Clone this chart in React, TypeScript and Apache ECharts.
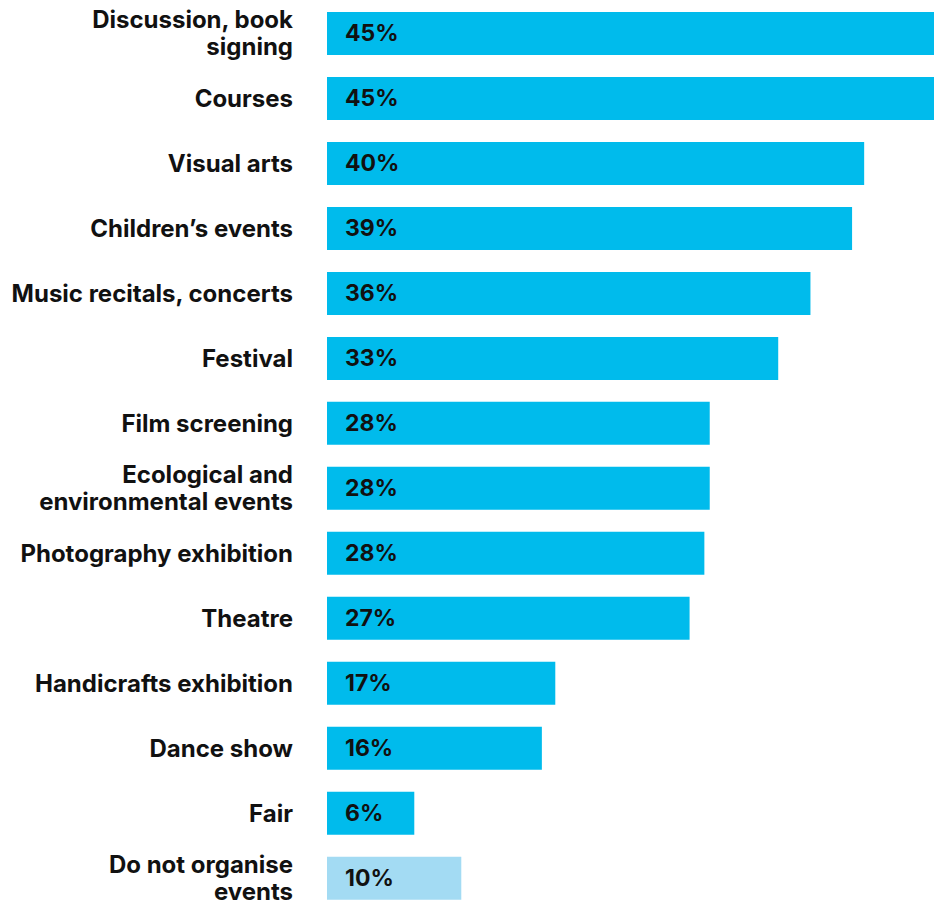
import React, { useEffect, useRef } from "react";
import * as echarts from "echarts";

const categories = [
  "Discussion, book\nsigning",
  "Courses",
  "Visual arts",
  "Children’s events",
  "Music recitals, concerts",
  "Festival",
  "Film screening",
  "Ecological and\nenvironmental events",
  "Photography exhibition",
  "Theatre",
  "Handicrafts exhibition",
  "Dance show",
  "Fair",
  "Do not organise\nevents",
];
const values = [45.2, 45.2, 40, 39.1, 36, 33.6, 28.5, 28.5, 28.1, 27, 17, 16, 6.5, 10];
const highlightIndex = 13;

const FONT = "Inter, 'Noto Sans', sans-serif";

export default function App() {
  const ref = useRef<HTMLDivElement>(null);
  useEffect(() => {
    document.body.style.margin = "0";
    const chart = echarts.init(ref.current!, undefined, { renderer: "svg" });
    chart.setOption({
      animation: false,
      grid: { left: 327, right: 0, top: 1, bottom: 1.3, containLabel: false },
      xAxis: {
        type: "value",
        min: 0,
        max: 45.2,
        show: false,
      },
      yAxis: {
        type: "category",
        inverse: true,
        data: categories,
        axisLine: { show: false },
        axisTick: { show: false },
        axisLabel: {
          margin: 34,
          color: "#111111",
          fontFamily: FONT,
          fontWeight: "bold",
          fontSize: 24,
          lineHeight: 27,
          align: "right",
        },
      },
      series: [
        {
          type: "bar",
          barWidth: 43,
          data: values.map((v, i) => ({
            value: v,
            itemStyle: { color: i === highlightIndex ? "#A3DBF3" : "#00BBEC" },
          })),
          label: {
            show: true,
            position: "insideLeft",
            distance: 18,
            color: "#111111",
            fontFamily: FONT,
            fontWeight: "bold",
            fontSize: 23,
            formatter: (p: any) => Math.floor(p.value) + "%",
          },
        },
      ],
    });
    return () => chart.dispose();
  }, []);
  return (
    <div style={{ position: "absolute", left: 0, top: 0, width: 934, height: 902, overflow: "hidden" }}>
      <div ref={ref} style={{ width: 934, height: 912 }} />
    </div>
  );
}
